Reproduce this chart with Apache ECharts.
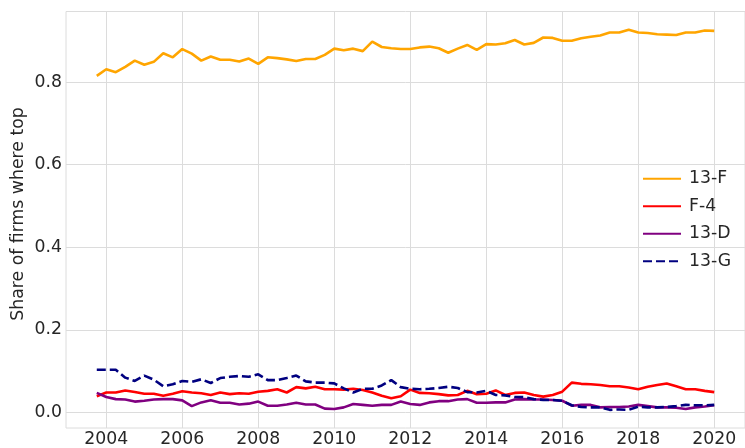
<!DOCTYPE html>
<html lang="en">
<head>
  <meta charset="UTF-8">
  <title>Share of firms where top</title>
  <script src="https://cdn.jsdelivr.net/npm/echarts@6/dist/echarts.min.js"></script>
  <style>
    body { margin: 0; background: #fff; }
    #chart { width: 745px; height: 448px; }
  </style>
</head>
<body>
  <div id="chart"></div>
  <script>
    // quarterly observations, 2003Q4 .. 2020Q1
    const quarters = [];
    for (let k = 0; k < 66; k++) quarters.push(2003.75 + k * 0.25);

    const xTicks = [2004, 2006, 2008, 2010, 2012, 2014, 2016, 2018, 2020];
    const yTicks = [0, 0.2, 0.4, 0.6, 0.8];

    const share13F = [
      0.815, 0.831, 0.824, 0.837, 0.852, 0.842, 0.849, 0.870, 0.860, 0.880,
      0.869, 0.852, 0.862, 0.854, 0.854, 0.850, 0.857, 0.844, 0.860, 0.858,
      0.855, 0.851, 0.856, 0.856, 0.866, 0.881, 0.877, 0.881, 0.875, 0.898,
      0.885, 0.882, 0.880, 0.880, 0.884, 0.886, 0.882, 0.871, 0.881, 0.890,
      0.878, 0.892, 0.891, 0.894, 0.902, 0.891, 0.895, 0.908, 0.907, 0.900,
      0.900, 0.906, 0.910, 0.913, 0.920, 0.920, 0.927, 0.920, 0.919, 0.916,
      0.915, 0.914, 0.920, 0.920, 0.925, 0.924
    ];
    const shareF4 = [
      0.039, 0.048, 0.048, 0.053, 0.049, 0.045, 0.045, 0.040, 0.045, 0.051,
      0.048, 0.046, 0.042, 0.048, 0.044, 0.046, 0.045, 0.050, 0.052, 0.056,
      0.048, 0.061, 0.058, 0.062, 0.056, 0.056, 0.055, 0.057, 0.054, 0.048,
      0.040, 0.034, 0.039, 0.055, 0.047, 0.046, 0.044, 0.041, 0.042, 0.052,
      0.044, 0.045, 0.053, 0.042, 0.047, 0.048, 0.042, 0.038, 0.042, 0.050,
      0.072, 0.069, 0.068, 0.066, 0.063, 0.063, 0.060, 0.056, 0.062, 0.066,
      0.070, 0.063, 0.056, 0.056, 0.052, 0.049
    ];
    const share13D = [
      0.047, 0.037, 0.032, 0.031, 0.026, 0.028, 0.031, 0.032, 0.032, 0.029,
      0.015, 0.024, 0.029, 0.023, 0.023, 0.019, 0.021, 0.026, 0.016, 0.016,
      0.019, 0.023, 0.019, 0.019, 0.009, 0.008, 0.012, 0.020, 0.018, 0.016,
      0.018, 0.018, 0.026, 0.020, 0.018, 0.024, 0.027, 0.027, 0.031, 0.032,
      0.023, 0.023, 0.024, 0.024, 0.031, 0.032, 0.031, 0.031, 0.030, 0.028,
      0.016, 0.018, 0.018, 0.012, 0.013, 0.013, 0.014, 0.018, 0.015, 0.012,
      0.012, 0.011, 0.008, 0.012, 0.014, 0.017
    ];
    const share13G = [
      0.103, 0.103, 0.103, 0.084, 0.076, 0.089, 0.079, 0.063, 0.068, 0.076,
      0.074, 0.080, 0.071, 0.083, 0.086, 0.088, 0.086, 0.092, 0.078, 0.078,
      0.083, 0.089, 0.075, 0.072, 0.072, 0.070, 0.058, 0.048, 0.057, 0.057,
      0.065, 0.078, 0.061, 0.057, 0.056, 0.057, 0.059, 0.062, 0.059, 0.049,
      0.048, 0.052, 0.042, 0.041, 0.037, 0.037, 0.032, 0.030, 0.030, 0.028,
      0.017, 0.013, 0.012, 0.012, 0.006, 0.007, 0.006, 0.014, 0.012, 0.012,
      0.013, 0.015, 0.018, 0.017, 0.017, 0.018
    ];

    const font = 'DejaVu Sans';
    const fontSize = 17.3;
    const ink = '#262626';
    const gridColor = '#dcdcdc';

    function pairs(values) {
      return values.map((v, i) => [quarters[i], v]);
    }

    function lineSeries(name, values, color, dashed) {
      return {
        name: name,
        type: 'line',
        data: pairs(values),
        symbol: 'none',
        lineStyle: { color: color, width: 2.6, type: dashed ? [9, 4] : 'solid' },
        itemStyle: { color: color }
      };
    }

    const chart = echarts.init(document.getElementById('chart'));

    chart.setOption({
      animation: false,
      backgroundColor: '#fff',
      grid: {
        left: 66, top: 11.5, width: 684.6, height: 416.5,
        show: true, borderColor: gridColor, borderWidth: 1, backgroundColor: 'transparent'
      },
      xAxis: {
        type: 'value',
        min: 2002.94,
        max: 2020.81,
        axisLine: { show: false },
        axisTick: { show: false, customValues: xTicks },
        axisLabel: {
          customValues: xTicks,
          color: ink, fontFamily: font, fontSize: fontSize, margin: 3,
          formatter: v => String(v)
        },
        splitLine: { show: true, lineStyle: { color: gridColor, width: 1 } }
      },
      yAxis: {
        type: 'value',
        min: -0.038,
        max: 0.971,
        axisLine: { show: false },
        axisTick: { show: false, customValues: yTicks },
        axisLabel: {
          customValues: yTicks,
          color: ink, fontFamily: font, fontSize: fontSize, margin: 4,
          formatter: v => v.toFixed(1)
        },
        splitLine: { show: true, lineStyle: { color: gridColor, width: 1 } }
      },
      legend: {
        orient: 'vertical',
        left: 637,
        top: 163.5,
        itemWidth: 38,
        itemHeight: 14,
        itemGap: 7,
        itemStyle: { opacity: 0 },
        textStyle: { color: ink, fontFamily: font, fontSize: fontSize, lineHeight: 20.5, padding: [0, 0, 0, 3] }
      },
      graphic: [{
        type: 'text',
        x: 18.5,
        y: 214,
        rotation: Math.PI / 2,
        style: {
          text: 'Share of firms where top',
          fill: ink,
          font: fontSize + 'px "DejaVu Sans"',
          textAlign: 'center',
          textVerticalAlign: 'middle'
        }
      }],
      series: [
        lineSeries('13-F', share13F, '#ffa500', false),
        lineSeries('F-4', shareF4, '#ff0000', false),
        lineSeries('13-D', share13D, '#800080', false),
        lineSeries('13-G', share13G, '#000080', true)
      ]
    });
  </script>
</body>
</html>
